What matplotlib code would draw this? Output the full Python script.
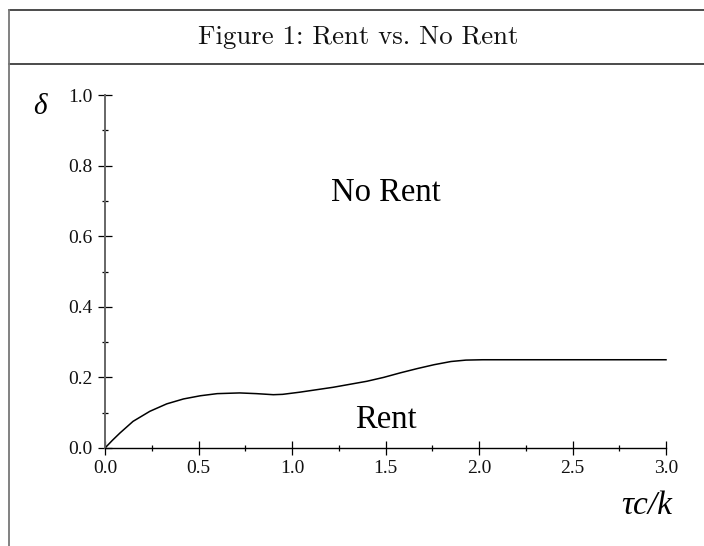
import matplotlib
matplotlib.use("Agg")
import matplotlib.pyplot as plt
from matplotlib.lines import Line2D
from matplotlib.ticker import MultipleLocator, FormatStrFormatter

# Boundary between the two regions: critical delta against tau*c/k
tau_ck = [0.0, 0.04, 0.08, 0.15, 0.24, 0.33, 0.42, 0.51, 0.60, 0.72, 0.81,
          0.90, 0.95, 1.04, 1.22, 1.40, 1.49, 1.58, 1.67, 1.76, 1.85, 1.93,
          2.02, 3.0]
delta = [0.0, 0.022, 0.0425, 0.0755, 0.104, 0.125, 0.139, 0.148, 0.154,
         0.156, 0.154, 0.151, 0.152, 0.158, 0.172, 0.189, 0.200, 0.213,
         0.225, 0.236, 0.245, 0.249, 0.250, 0.250]

x_ticks = [0.0, 0.5, 1.0, 1.5, 2.0, 2.5, 3.0]
y_ticks = [0.0, 0.2, 0.4, 0.6, 0.8, 1.0]

title_text = "Figure 1: Rent vs. No Rent"
region_upper = "No Rent"
region_lower = "Rent"

serif = "Liberation Serif"

W, H = 704, 546
fig = plt.figure(figsize=(W / 100, H / 100), dpi=100)

# Frame around the figure: top rule, rule under the caption, left edge
frame_dark = "#1a1a1a"
frame_grey = "#777777"
x_left = 8.5 / W
y_top = 1 - 10 / H
y_mid = 1 - 64 / H
fig.add_artist(Line2D([x_left, 1.0], [y_top, y_top], color=frame_dark, lw=1.1,
                      transform=fig.transFigure))
fig.add_artist(Line2D([x_left, 1.0], [y_mid, y_mid], color=frame_dark, lw=1.1,
                      transform=fig.transFigure))
fig.add_artist(Line2D([x_left, x_left], [0.0, y_top], color=frame_grey, lw=1.3,
                      transform=fig.transFigure))

fig.text(358 / W, 1 - 37 / H, title_text, ha="center", va="center",
         fontsize=19.3, family="cmr10", color="#111111")

# Plot area
ax_l, ax_r = 105 / W, 666 / W
ax_b, ax_t = 1 - 448 / H, 1 - 95 / H
ax = fig.add_axes([ax_l, ax_b, ax_r - ax_l, ax_t - ax_b])
ax.set_xlim(0, 3.0)
ax.set_ylim(0, 1.0)

ax.plot(tau_ck, delta, color="black", lw=1.1, clip_on=False,
        solid_joinstyle="round")

for side in ("top", "right"):
    ax.spines[side].set_visible(False)
ax.spines["left"].set_color("#666666")
ax.spines["left"].set_linewidth(1.4)
ax.spines["bottom"].set_color("black")
ax.spines["bottom"].set_linewidth(1.0)

ax.set_xticks(x_ticks)
ax.set_yticks(y_ticks)
ax.xaxis.set_minor_locator(MultipleLocator(0.25))
ax.yaxis.set_minor_locator(MultipleLocator(0.1))
ax.xaxis.set_major_formatter(FormatStrFormatter("%.1f"))
ax.yaxis.set_major_formatter(FormatStrFormatter("%.1f"))
ax.tick_params(which="major", direction="inout", length=9.5, width=0.9,
               color="black", labelsize=14, pad=4)
ax.tick_params(which="minor", direction="inout", length=4.5, width=0.9,
               color="black")
ax.tick_params(axis="y", which="major", pad=4.5)
for lab in ax.get_xticklabels() + ax.get_yticklabels():
    lab.set_fontfamily(serif)
    lab.set_color("#111111")

# Region labels
ax.text(1.5, 0.724, region_upper, ha="center", va="center",
        fontsize=23.5, family=serif)
ax.text(1.5, 0.08, region_lower, ha="center", va="center",
        fontsize=23.5, family=serif)

# Axis symbols
fig.text(40 / W, 1 - 107 / H, "δ", ha="center", va="center",
         fontsize=21, family=serif, style="italic")
fig.text(647 / W, 1 - 506 / H, "τc/k", ha="center", va="center",
         fontsize=24, family=serif, style="italic")

fig.savefig("out.png", dpi=100, facecolor="white")
